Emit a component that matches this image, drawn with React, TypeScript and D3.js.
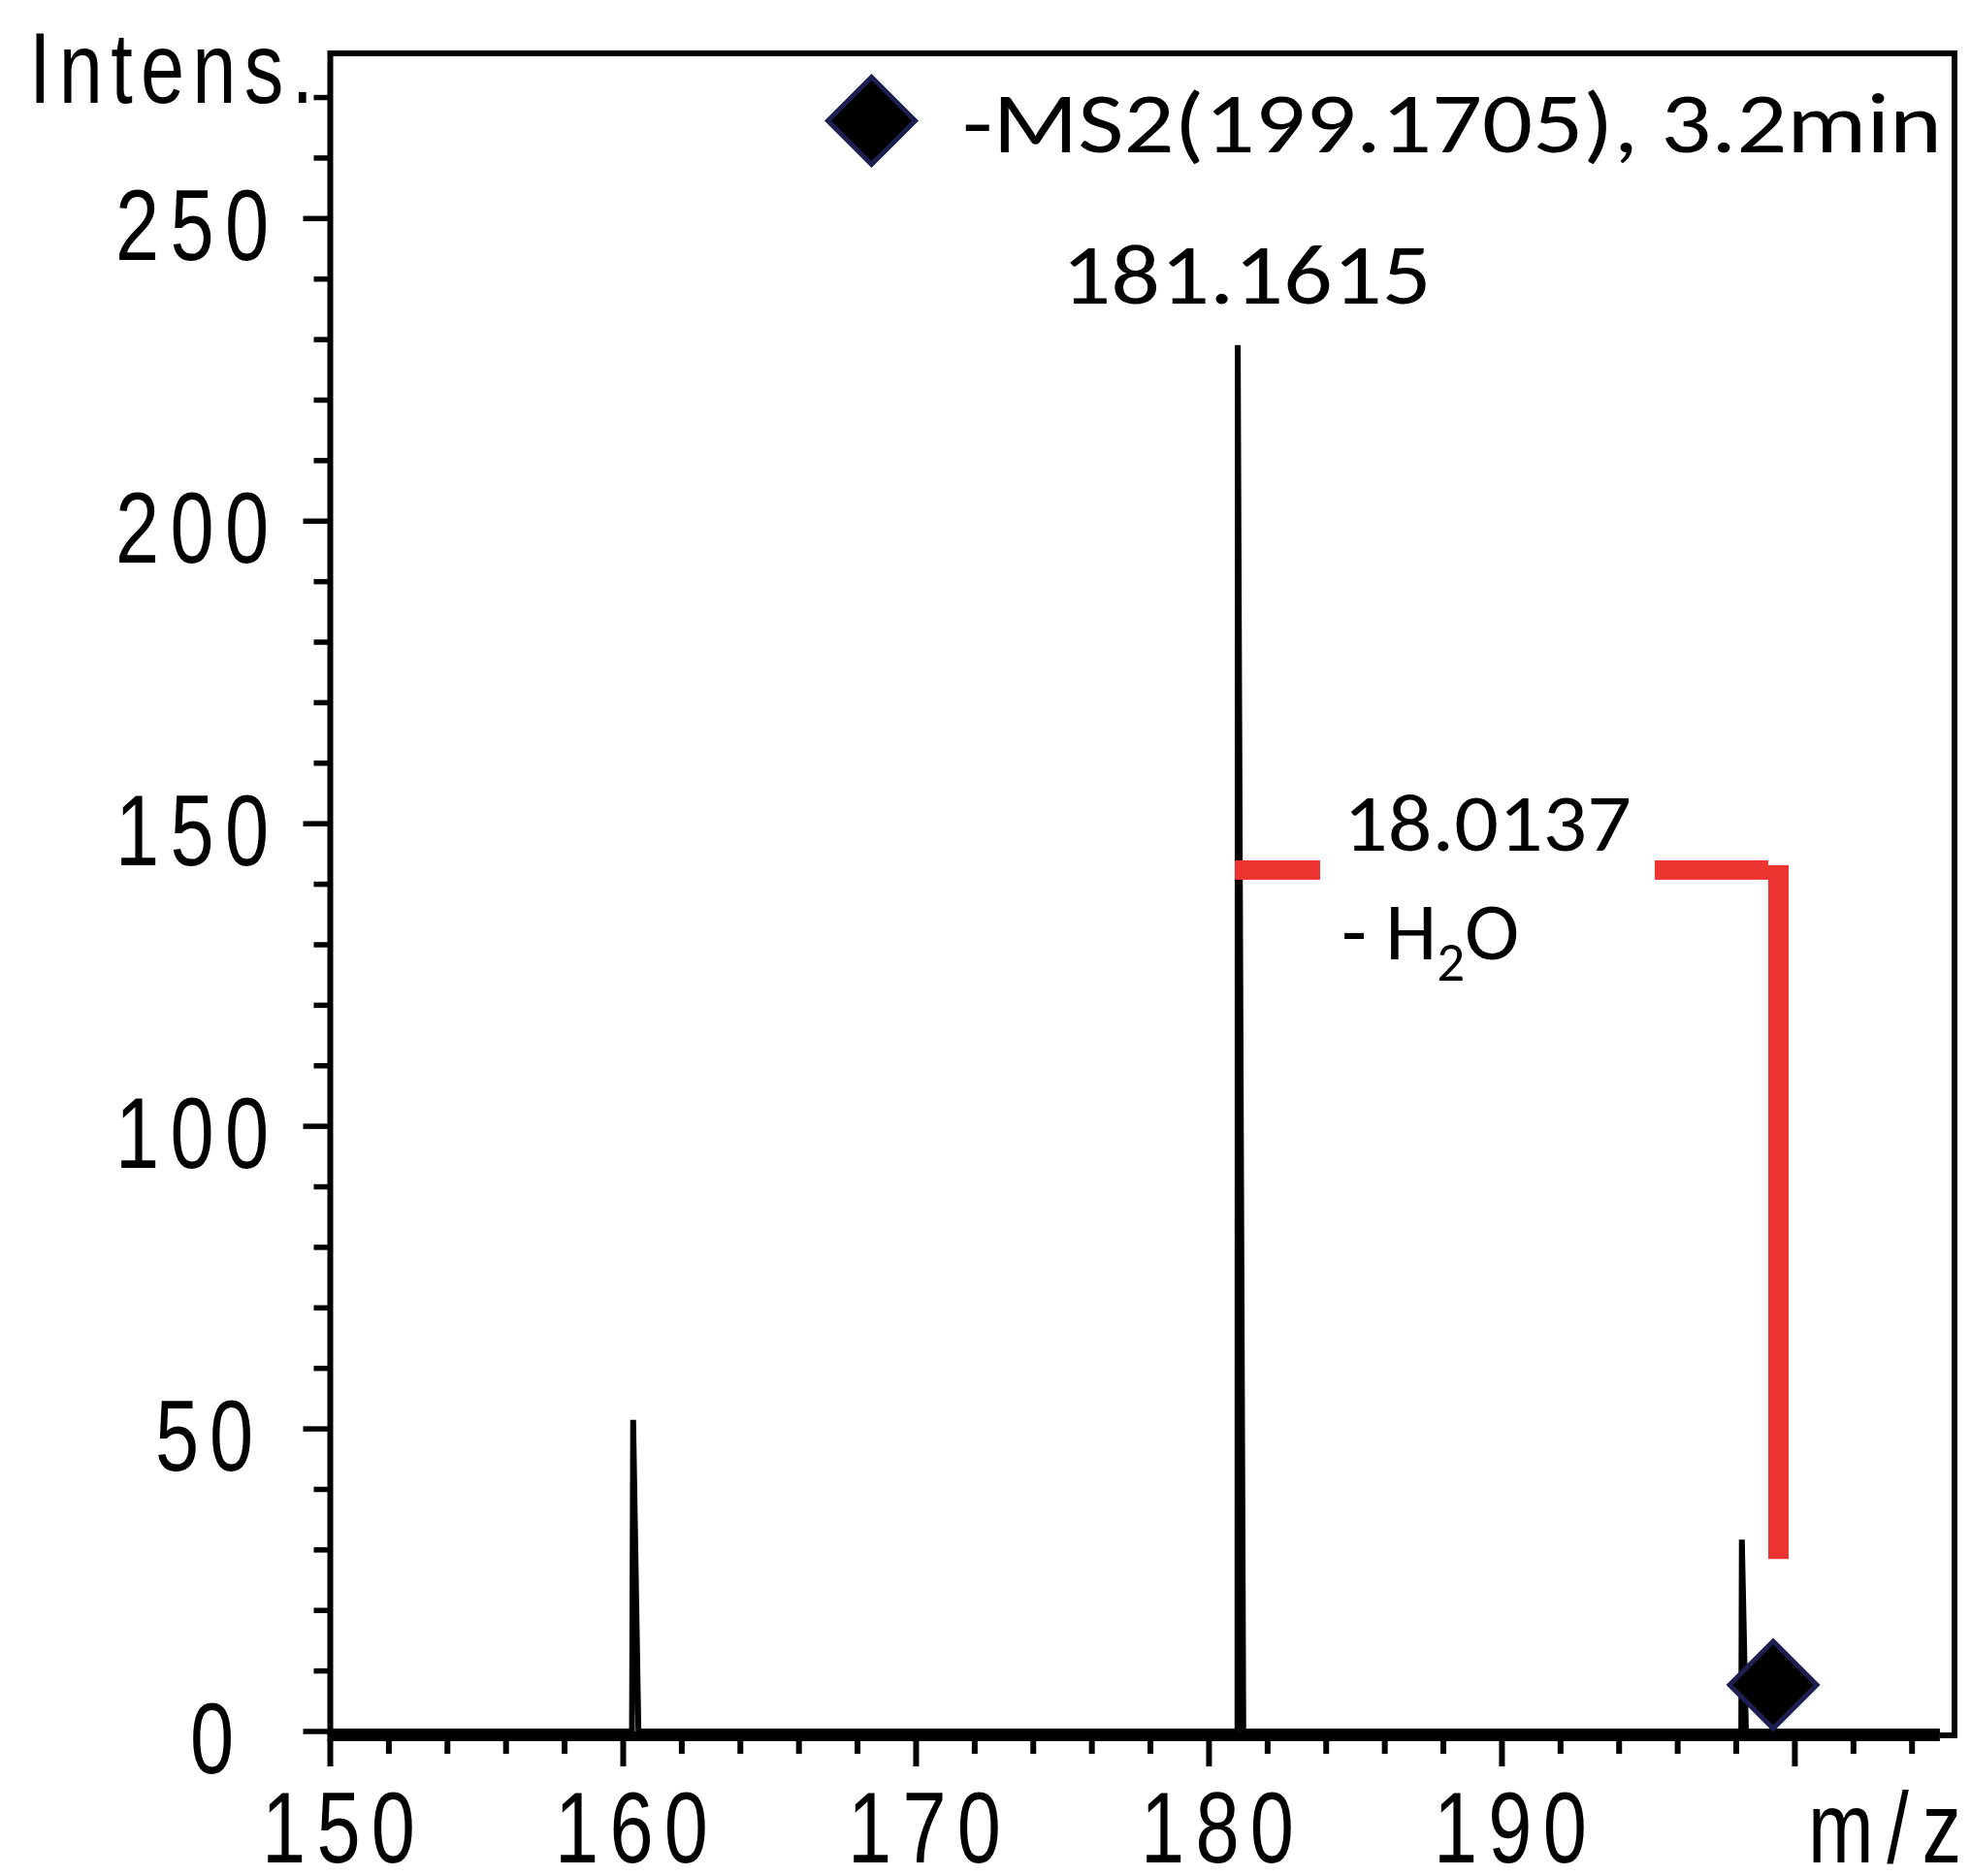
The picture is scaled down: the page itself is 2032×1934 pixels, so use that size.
import React from "react";
import * as d3 from "d3";

// ---- data ----
const spectrumMz = [150, 160.3, 160.34, 160.52, 180.97, 180.98, 181.17, 198.17, 198.19, 198.33, 204.95];
const spectrumIntensity = [0, 0, 51.5, 0, 0, 229.1, 0, 0, 31.7, 0, 0];

const yMajorTicks = [0, 50, 100, 150, 200, 250];
const yMinorTicks = [10, 20, 30, 40, 60, 70, 80, 90, 110, 120, 130, 140, 160, 170, 180, 190, 210, 220, 230, 240, 260, 270];
const xMajorTicks = [150, 160, 170, 180, 190, 200];
const xMinorTicks = [152, 154, 156, 158, 162, 164, 166, 168, 172, 174, 176, 178, 182, 184, 186, 188, 192, 194, 196, 198, 202, 204];
const xTickLabels = ["150", "160", "170", "180", "190"];

const legendLabel = "-MS2(199.1705), 3.2min";
const peakLabel = "181.1615";
const peakLabelMz = 180.98;
const peakLabelIntensity = 229.1;
const precursorMarkerMz = 199.26;

const lossLabel = "18.0137";
const lossFromMz = 180.88;
const lossToMz = 199.44;
const lossLevel = 142.35;
const lossEndLevel = 28.5;

const RED = "#ee3431";
const NAVY = "#1b2050";

const SX = 0.78;
const axisFont = "'Liberation Sans', Arial, sans-serif";
const textFont = "Carlito, Lato, 'Open Sans', sans-serif";

function NarrowText(props: { x: number; y: number; anchor: "start" | "middle" | "end"; width: number; children: string }) {
  const { x, y, anchor, width, children } = props;
  return (
    <text
      transform={`translate(${x},${y}) scale(${SX},1)`}
      x={0}
      y={0}
      textAnchor={anchor}
      fontFamily={axisFont}
      fontSize={104}
      textLength={children.length > 1 ? width / SX : undefined}
      lengthAdjust="spacing"
    >
      {children}
    </text>
  );
}

export default function App() {
  const x = d3.scaleLinear().domain([150, 205.45]).range([340.5, 2015]);
  const y = d3.scaleLinear().domain([0, 277.3]).range([1785, 55]);

  const pts: [number, number][] = spectrumMz.map((m, i) => [m, spectrumIntensity[i]]);
  const line = d3
    .line<[number, number]>()
    .x((d) => x(d[0]))
    .y((d) => y(d[1]));

  const yLabelRight: Record<number, number> = { 1: 241, 2: 261, 3: 277 };
  const yLabelLen: Record<number, number> = { 1: 45, 2: 101, 3: 158 };

  const mx = x(precursorMarkerMz);
  const my = y(0) - 48;
  const dr = 45;

  const lossX0 = x(lossFromMz);
  const lossX1 = x(lossToMz);
  const lossY = y(lossLevel);
  const lossTextX = 1385;
  const lossTextW = 297;

  return (
    <svg width={2032} height={1934} style={{ display: "block", position: "absolute", left: 0, top: 0 }}>
      <rect x={0} y={0} width={2032} height={1934} fill="#ffffff" />

      {/* frame */}
      <path
        d={`M${x(150)},${y(0) + 4} V${y(277.3)} H${x(205.45)} V${y(0) + 4} H${x(204.95)}`}
        fill="none"
        stroke="#000"
        strokeWidth={6}
        strokeLinejoin="miter"
      />
      {/* x axis line */}
      <line x1={x(150) - 3} x2={x(204.95)} y1={y(0) + 5} y2={y(0) + 5} stroke="#000" strokeWidth={10} />

      {/* y ticks */}
      {yMajorTicks.map((t) => (
        <line key={"ym" + t} x1={x(150) - 28} x2={x(150)} y1={y(t)} y2={y(t)} stroke="#000" strokeWidth={5.5} />
      ))}
      {yMinorTicks.map((t) => (
        <line key={"yn" + t} x1={x(150) - 17} x2={x(150)} y1={y(t)} y2={y(t)} stroke="#000" strokeWidth={5.5} />
      ))}
      {yMajorTicks.map((t) => {
        const s = String(t);
        return (
          <NarrowText key={"yl" + t} x={yLabelRight[s.length]} y={y(t) + 43} anchor="end" width={yLabelLen[s.length]}>
            {s}
          </NarrowText>
        );
      })}

      {/* x ticks */}
      {xMajorTicks.map((t) => (
        <line key={"xm" + t} x1={x(t)} x2={x(t)} y1={y(0) + 8} y2={1821} stroke="#000" strokeWidth={6} />
      ))}
      {xMinorTicks.map((t) => (
        <line key={"xn" + t} x1={x(t)} x2={x(t)} y1={y(0) + 8} y2={1808} stroke="#000" strokeWidth={6} />
      ))}
      {xTickLabels.map((s) => (
        <NarrowText key={"xl" + s} x={x(+s) + 8.5} y={1920} anchor="middle" width={158}>
          {s}
        </NarrowText>
      ))}
      <NarrowText x={2022} y={1920} anchor="end" width={158}>
        m/z
      </NarrowText>
      <NarrowText x={30} y={106} anchor="start" width={293}>
        Intens.
      </NarrowText>

      {/* spectrum */}
      <path d={line(pts) || ""} fill="none" stroke="#000" strokeWidth={6} strokeLinejoin="bevel" />

      {/* neutral loss bracket */}
      <rect x={lossX0} y={lossY - 10} width={lossTextX - 24 - lossX0} height={20} fill={RED} />
      <rect x={lossTextX + lossTextW + 24} y={lossY - 10} width={lossX1 - 10.5 - (lossTextX + lossTextW + 24)} height={20} fill={RED} />
      <rect x={lossX1 - 10.5} y={lossY - 5} width={21} height={y(lossEndLevel) - (lossY - 5)} fill={RED} />
      <text x={lossTextX} y={877} fontFamily={textFont} fontSize={85} textLength={lossTextW} lengthAdjust="spacingAndGlyphs">
        {lossLabel}
      </text>
      <text x={1383} y={989} fontFamily={textFont} fontSize={85}>
        <tspan>- H</tspan>
        <tspan fontSize={57} dy={22}>2</tspan>
        <tspan dy={-22}>O</tspan>
      </text>

      {/* peak label */}
      <text
        x={x(peakLabelMz) + 9}
        y={y(peakLabelIntensity) - 43}
        textAnchor="middle"
        fontFamily={textFont}
        fontSize={88}
        textLength={381}
        lengthAdjust="spacingAndGlyphs"
      >
        {peakLabel}
      </text>

      {/* precursor marker */}
      <path
        d={`M${mx},${my - dr} L${mx + dr},${my} L${mx},${my + dr} L${mx - dr},${my} Z`}
        fill="#000"
        stroke={NAVY}
        strokeWidth={5}
      />

      {/* legend */}
      <path
        d={`M898.5,${124.5 - 45} L${898.5 + 45},124.5 L898.5,${124.5 + 45} L${898.5 - 45},124.5 Z`}
        fill="#000"
        stroke={NAVY}
        strokeWidth={5}
      />
      <text x={992} y={157} fontFamily={textFont} fontSize={89} textLength={1010} lengthAdjust="spacingAndGlyphs">
        {legendLabel}
      </text>
    </svg>
  );
}
